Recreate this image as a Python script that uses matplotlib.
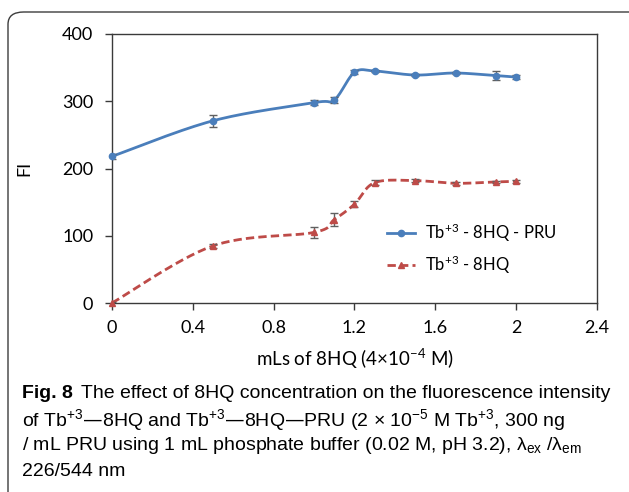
import numpy as np
import matplotlib
matplotlib.use("Agg")
import matplotlib.pyplot as plt
from matplotlib.patches import FancyBboxPatch
from matplotlib.lines import Line2D

# ---- data ----
x_vals = [0, 0.5, 1.0, 1.1, 1.2, 1.3, 1.5, 1.7, 1.9, 2.0]
pru = [218, 271, 298, 302, 343, 345, 339, 342, 338, 336]
pru_err = [4, 9, 4, 5, 3, 2, 2, 2, 7, 3]
hq = [0, 85, 105, 124, 147, 179, 182, 178, 180, 181]
hq_err = [1, 3, 8, 10, 4, 4, 2, 2, 2, 2]
x_ticks = [0, 0.4, 0.8, 1.2, 1.6, 2.0, 2.4]
x_tick_labels = ["0", "0.4", "0.8", "1.2", "1.6", "2", "2.4"]
y_ticks = [0, 100, 200, 300, 400]
labels = [r"Tb$\mathregular{^{+3}}$ - 8HQ - PRU", r"Tb$\mathregular{^{+3}}$ - 8HQ"]

chart_font = ["Lato", "DejaVu Sans"]
cap_font = ["Liberation Sans", "DejaVu Sans"]
plt.rcParams['font.family'] = chart_font

W, H = 629, 492
fig = plt.figure(figsize=(W / 100, H / 100), dpi=100)

# outer rounded frame
frame = FancyBboxPatch((8 / W, -0.2), 1.2, (H - 12) / H + 0.2,
                       boxstyle="round,pad=0,rounding_size=0.025",
                       transform=fig.transFigure, fill=False,
                       edgecolor="#3c3c3c", linewidth=1.0)
fig.patches.append(frame)

ax = fig.add_axes([112 / W, 1 - 303 / H, (597 - 112) / W, (303 - 34) / H])
ax.set_xlim(0, 2.4)
ax.set_ylim(0, 400)

spine_c = "#3a3a3a"
for s in ax.spines.values():
    s.set_color(spine_c)
    s.set_linewidth(1.0)
ax.set_xticks(x_ticks)
ax.set_xticklabels(x_tick_labels)
ax.set_yticks(y_ticks)
ax.tick_params(axis='both', direction='out', length=5, width=1, color=spine_c,
               labelsize=13)
ax.tick_params(axis='x', pad=7.5)
ax.tick_params(axis='y', pad=8.5)


def smooth(ax, xs, ys, n=30):
    pts = ax.transData.transform(np.column_stack([xs, ys]))
    out = [pts[0]]
    m = len(pts)
    for i in range(m - 1):
        p0 = pts[max(i - 1, 0)]
        p1 = pts[i]
        p2 = pts[i + 1]
        p3 = pts[min(i + 2, m - 1)]
        c1 = p1 + (p2 - p0) / 6.0
        c2 = p2 - (p3 - p1) / 6.0
        t = np.linspace(0, 1, n)[1:, None]
        seg = ((1 - t) ** 3) * p1 + 3 * ((1 - t) ** 2) * t * c1 + 3 * (1 - t) * t ** 2 * c2 + t ** 3 * p2
        out.extend(seg)
    out = np.array(out)
    return ax.transData.inverted().transform(out)


blue = "#4a7ebb"
red = "#be4b48"
err_c = "#606060"
dash = (0, (3, 1.5))

sb = smooth(ax, x_vals, pru)
sr = smooth(ax, x_vals, hq)
ax.plot(sb[:, 0], sb[:, 1], color=blue, lw=2.0, solid_capstyle='round', clip_on=False)
ax.plot(sr[:, 0], sr[:, 1], color=red, lw=2.0, ls=dash, clip_on=False)
ax.errorbar(x_vals, pru, yerr=pru_err, fmt='none', ecolor=err_c, elinewidth=1, capsize=3, capthick=1)
ax.errorbar(x_vals, hq, yerr=hq_err, fmt='none', ecolor=err_c, elinewidth=1, capsize=3, capthick=1)
ax.plot(x_vals, pru, ls='none', marker='o', ms=4.5, color=blue, clip_on=False, zorder=5)
ax.plot(x_vals, hq, ls='none', marker='^', ms=5, color=red, clip_on=False, zorder=5)

handles = [Line2D([], [], color=blue, lw=2, marker='o', ms=4.5),
           Line2D([], [], color=red, lw=2, ls=dash, marker='^', ms=5)]
ax.legend(handles, labels, loc='upper left', bbox_to_anchor=(0.536, 0.36), frameon=False,
          fontsize=12, handlelength=1.7, handletextpad=0.6, labelspacing=0.6)

ax.set_ylabel("FI", fontsize=13)
ax.yaxis.set_label_coords(-(112 - 32) / 485, 0.5)
ax.set_xlabel(r"mLs of 8HQ (4×10$\mathregular{^{-4}}$ M)", fontsize=13.5)
ax.xaxis.set_label_coords(0.5, -(347 - 303) / 269)

# caption
x0 = 22 / W
fs = 14
cap_lines = [
    r"of Tb$\mathregular{^{+3}}$—8HQ and Tb$\mathregular{^{+3}}$—8HQ—PRU (2 × 10$\mathregular{^{−5}}$ M Tb$\mathregular{^{+3}}$, 300 ng",
    r"/ mL PRU using 1 mL phosphate buffer (0.02 M, pH 3.2), λ$\mathregular{_{ex}}$ /λ$\mathregular{_{em}}$",
    "226/544 nm",
]
t1 = fig.text(x0, 1 - 393 / H, "Fig. 8", fontsize=fs, fontweight='bold', family=cap_font, va='center')
fig.canvas.draw()
bb = t1.get_window_extent()
fig.text((bb.x1 + 8) / W, 1 - 393 / H, "The effect of 8HQ concentration on the fluorescence intensity",
         fontsize=fs, family=cap_font, va='center')
for i, line in enumerate(cap_lines):
    fig.text(x0, 1 - (420 + 26 * i) / H, line, fontsize=fs, family=cap_font, va='center')

fig.savefig("out.png", dpi=100)
